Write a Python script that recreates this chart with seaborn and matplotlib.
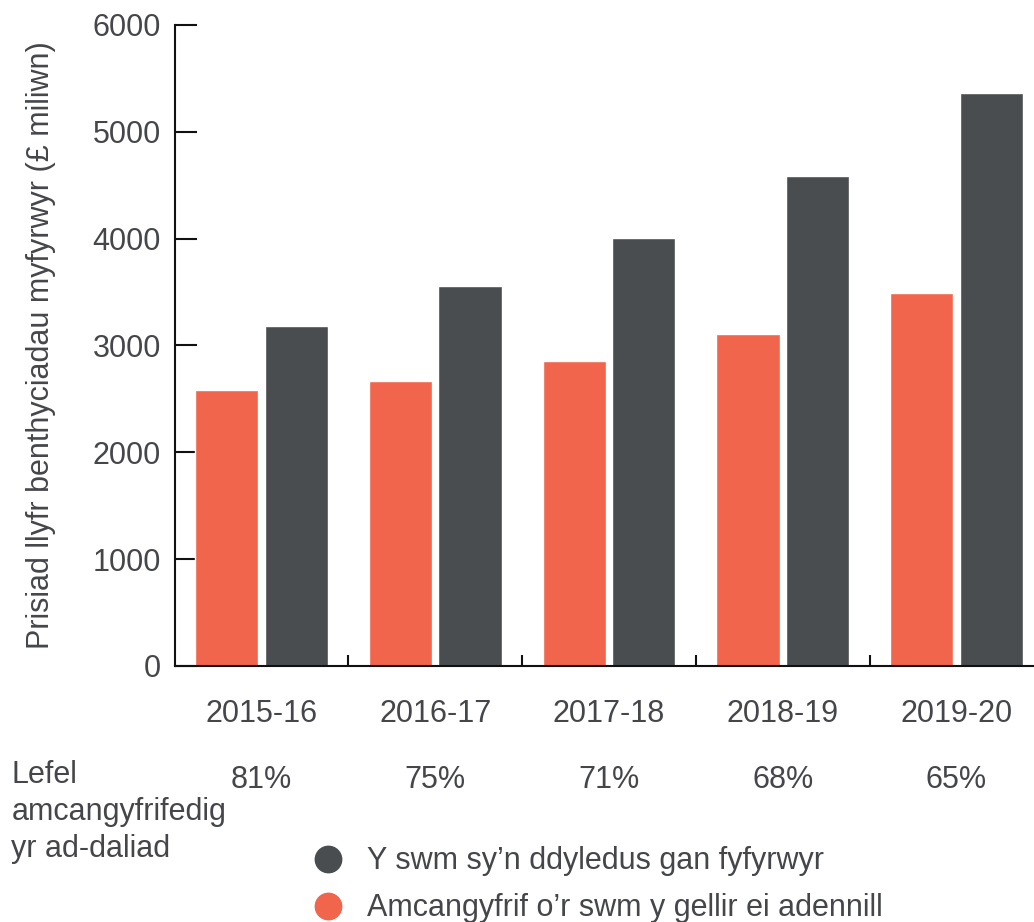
import matplotlib
matplotlib.use("Agg")
import matplotlib.pyplot as plt
import seaborn as sns
import pandas as pd
from matplotlib.lines import Line2D

years = ["2015-16", "2016-17", "2017-18", "2018-19", "2019-20"]
owed = [3185, 3560, 4010, 4590, 5360]
recoverable = [2585, 2670, 2850, 3110, 3495]
repay_rate = ["81%", "75%", "71%", "68%", "65%"]

s_owed = "Y swm sy\u2019n ddyledus gan fyfyrwyr"
s_rec = "Amcangyfrif o\u2019r swm y gellir ei adennill"

df = pd.DataFrame({
    "year": years * 2,
    "value": recoverable + owed,
    "series": [s_rec] * len(years) + [s_owed] * len(years),
})

sns.set_theme(style="white")
plt.rcParams["font.family"] = ["Liberation Sans", "DejaVu Sans"]
text_color = "#444649"
c_orange = "#F0654B"
c_dark = "#4A4D50"
fs = 22

fig = plt.figure(figsize=(10.34, 9.22), dpi=100)
ax = fig.add_axes([0.169, 0.2777, 0.835, 0.6952])

sns.barplot(data=df, x="year", y="value", hue="series",
            hue_order=[s_rec, s_owed], palette=[c_orange, c_dark],
            width=0.8, gap=0.09, saturation=1, ax=ax, legend=False)

ax.set_xlim(-0.5, 4.47)
ax.set_ylim(0, 6000)
ax.set_yticks([0, 1000, 2000, 3000, 4000, 5000, 6000])
ax.set_xlabel("")
ax.set_ylabel("Prisiad llyfr benthyciadau myfyrwyr (\u00a3 miliwn)",
              fontsize=fs, color=text_color, labelpad=26)
for side in ["top", "right"]:
    ax.spines[side].set_visible(False)
for side in ["left", "bottom"]:
    ax.spines[side].set_color("#111111")
    ax.spines[side].set_linewidth(1.5)

ax.tick_params(axis="y", direction="in", length=16, width=1.5, color="#111111",
               labelsize=fs, labelcolor=text_color, pad=10, left=True)
ax.tick_params(axis="x", which="major", length=0, labelsize=fs,
               labelcolor=text_color, pad=24)
ax.set_xticks([0.5, 1.5, 2.5, 3.5], minor=True)
ax.tick_params(axis="x", which="minor", direction="in", length=8, width=1.5,
               color="#111111", bottom=True)

# estimated repayment rate row
for i, r in enumerate(repay_rate):
    ax.text(i, -0.178, r, transform=ax.get_xaxis_transform(), ha="center",
            va="center", fontsize=fs, color=text_color)

fig.text(0.011, 0.119, "Lefel\namcangyfrifedig\nyr ad-daliad", ha="left",
         va="center", fontsize=fs, color=text_color, linespacing=1.3)

handles = [
    Line2D([], [], marker="o", linestyle="none", markersize=19,
           markerfacecolor=c_dark, markeredgecolor=c_dark),
    Line2D([], [], marker="o", linestyle="none", markersize=19,
           markerfacecolor=c_orange, markeredgecolor=c_orange),
]
leg = fig.legend(handles, [s_owed, s_rec], loc="upper left",
                 bbox_to_anchor=(0.302, 0.082), frameon=False, fontsize=fs,
                 labelcolor=text_color, handletextpad=0.8, labelspacing=0.55,
                 borderaxespad=0, borderpad=0, handlelength=1.0)

fig.savefig("out.png", dpi=100)
